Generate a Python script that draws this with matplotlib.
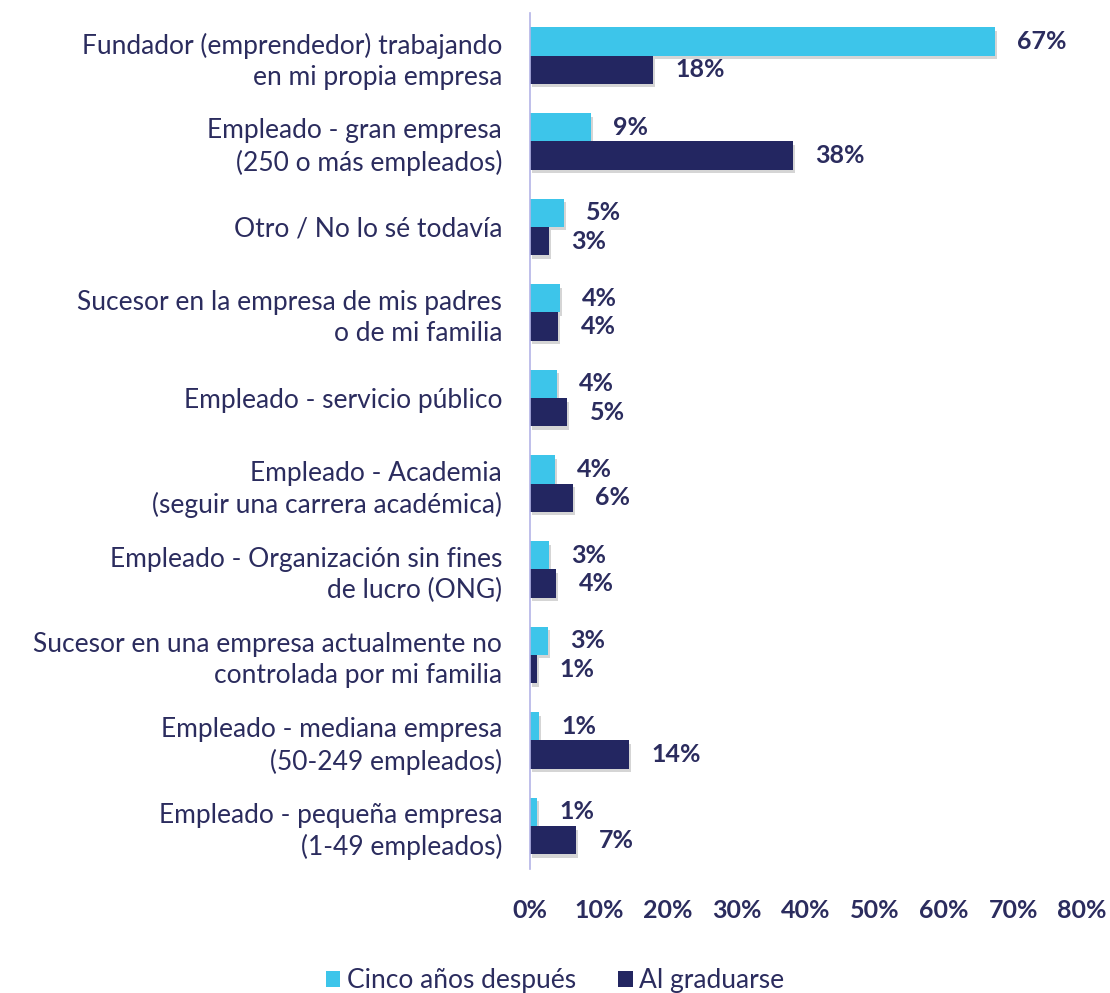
import matplotlib.pyplot as plt
import matplotlib.patheffects as pe
import numpy as np

# categories top -> bottom
categories = [
    "Fundador (emprendedor) trabajando\nen mi propia empresa",
    "Empleado - gran empresa\n(250 o más empleados)",
    "Otro / No lo sé todavía",
    "Sucesor en la empresa de mis padres\no de mi familia",
    "Empleado - servicio público",
    "Empleado - Academia\n(seguir una carrera académica)",
    "Empleado - Organización sin fines\nde lucro (ONG)",
    "Sucesor en una empresa actualmente no\ncontrolada por mi familia",
    "Empleado - mediana empresa\n(50-249 empleados)",
    "Empleado - pequeña empresa\n(1-49 empleados)",
]
cinco_anos = [67.4, 8.8, 4.9, 4.3, 3.9, 3.6, 2.8, 2.6, 1.3, 1.0]
al_graduarse = [17.8, 38.1, 2.8, 4.1, 5.4, 6.2, 3.8, 1.0, 14.3, 6.7]
xticks = [0, 10, 20, 30, 40, 50, 60, 70, 80]

CYAN = "#3DC5EA"
NAVY = "#232661"
TEXT = "#2B2C5E"

plt.rcParams["font.family"] = ["Lato", "DejaVu Sans"]

fig = plt.figure(figsize=(11.1, 9.93), dpi=100)
ax = fig.add_axes([0.4775, 0.125, 0.4975, 0.862])

y = np.arange(len(categories))
h = 0.33
shadow = [pe.SimplePatchShadow(offset=(1.5, -2.5), alpha=0.22, shadow_rgbFace="#444444"), pe.Normal()]

b1 = ax.barh(y - h / 2, cinco_anos, height=h, color=CYAN, label="Cinco años después")
b2 = ax.barh(y + h / 2, al_graduarse, height=h, color=NAVY, label="Al graduarse")
for bars in (b1, b2):
    for p in bars:
        p.set_path_effects(shadow)

for vals, off in ((cinco_anos, -h / 2), (al_graduarse, h / 2)):
    for i, v in enumerate(vals):
        ax.annotate(f"{v:.0f}%", (v, i + off), xytext=(16, 0), textcoords="offset points",
                    va="center", ha="left", fontsize=18, color=TEXT, fontweight="bold")

ax.set_ylim(len(categories) - 0.5, -0.5)
ax.set_xlim(0, 80)
ax.set_xticks(xticks)
ax.set_xticklabels([f"{t}%" for t in xticks], fontsize=18, color=TEXT, fontweight="bold")
ax.set_yticks(y)
ax.set_yticklabels(categories, fontsize=19, color=TEXT, linespacing=1.3)
ax.tick_params(axis="y", length=0, pad=20)
ax.tick_params(axis="x", length=0, pad=22)
for s in ("top", "right", "bottom"):
    ax.spines[s].set_visible(False)
ax.spines["left"].set_color("#B4B4E6")
ax.spines["left"].set_linewidth(1.2)

leg = fig.legend(loc="lower center", bbox_to_anchor=(0.5, -0.024), ncol=2, frameon=False,
                 fontsize=19, handlelength=0.55, handleheight=0.55, columnspacing=1.6,
                 handletextpad=0.25, labelcolor=TEXT)
for hnd in leg.legend_handles:
    hnd.set_path_effects([])

fig.savefig("out.png", dpi=100)
